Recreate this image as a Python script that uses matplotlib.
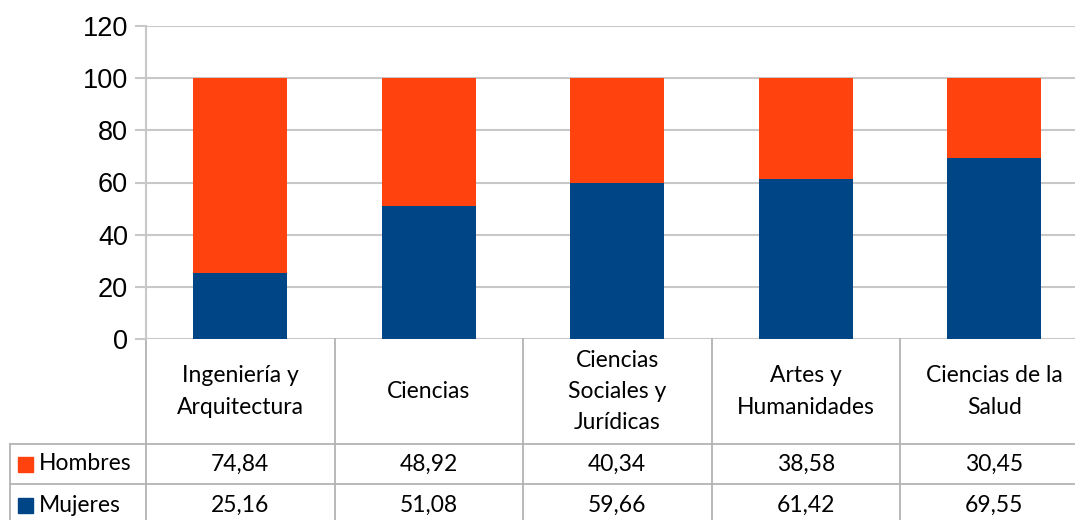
import numpy as np
import matplotlib
matplotlib.use('Agg')
import matplotlib.pyplot as plt
from matplotlib.patches import Rectangle

categories = ['Ingeniería y\nArquitectura', 'Ciencias', 'Ciencias\nSociales y\nJurídicas',
              'Artes y\nHumanidades', 'Ciencias de la\nSalud']
hombres = [74.84, 48.92, 40.34, 38.58, 30.45]
mujeres = [25.16, 51.08, 59.66, 61.42, 69.55]
series_names = ['Hombres', 'Mujeres']
yticks = [0, 20, 40, 60, 80, 100, 120]

c_h = '#ff420e'
c_m = '#004586'
grid_c = '#c8c8c8'
line_c = '#b3b3b3'
tfont = 'Lato'
tsize = 16.5

W, H = 1075, 520
fig = plt.figure(figsize=(W/100, H/100), dpi=100)
ax = fig.add_axes([146/W, (H-339)/H, 942.5/W, 313/H])

x = np.arange(len(categories))
ax.bar(x, mujeres, width=0.5, color=c_m, zorder=3)
ax.bar(x, hombres, width=0.5, bottom=mujeres, color=c_h, zorder=3)

ax.set_xlim(-0.5, len(categories)-0.5)
ax.set_ylim(0, 120)
ax.set_yticks(yticks)
ax.set_yticklabels([str(v) for v in yticks], fontsize=19.5, family='Liberation Sans')
ax.tick_params(axis='y', length=8, width=1.5, color=grid_c, pad=5)
ax.set_xticks([])
ax.grid(axis='y', color=grid_c, linewidth=1.5, zorder=0)
for s in ['top', 'right', 'bottom']:
    ax.spines[s].set_visible(False)
ax.spines['left'].set_color(grid_c)
ax.spines['left'].set_linewidth(1.5)

# data table below the axis
tr = ax.get_xaxis_transform()
ph = 313.0
r1 = (339-444)/ph
r2 = (339-484)/ph
r3 = (339-530)/ph
xl = -0.5 - 136/188.5
ym = r2 - 21/ph

kw = dict(transform=tr, clip_on=False, color=line_c, linewidth=1.3)
ax.plot([-0.5, -0.5], [0, r3], **kw)
for i in range(1, len(categories)):
    ax.plot([i-0.5, i-0.5], [0, r3], **kw)
for yy in [r1, r2]:
    ax.plot([xl, len(categories)-0.5], [yy, yy], **kw)
ax.plot([xl, xl], [r1, r3], **kw)

for i, cat in enumerate(categories):
    ax.text(i, r1/2, cat, transform=tr, ha='center', va='center', fontsize=tsize,
            family=tfont, linespacing=1.6)
    ax.text(i, (r1+r2)/2, f'{hombres[i]:.2f}'.replace('.', ','), transform=tr,
            ha='center', va='center', fontsize=tsize, family=tfont)
    ax.text(i, ym, f'{mujeres[i]:.2f}'.replace('.', ','),
            transform=tr, ha='center', va='center', fontsize=tsize, family=tfont)

for yy, name, col in [((r1+r2)/2, series_names[0], c_h), (ym, series_names[1], c_m)]:
    fig.patches.append(Rectangle((18/W, (H-339)/H + yy*ph/H - 7.5/H), 15/W, 15/H,
                                 color=col, transform=fig.transFigure))
    ax.text(xl + 29/188.5, yy, name, transform=tr, ha='left', va='center',
            fontsize=tsize, family=tfont)

plt.savefig('out.png', dpi=100)
